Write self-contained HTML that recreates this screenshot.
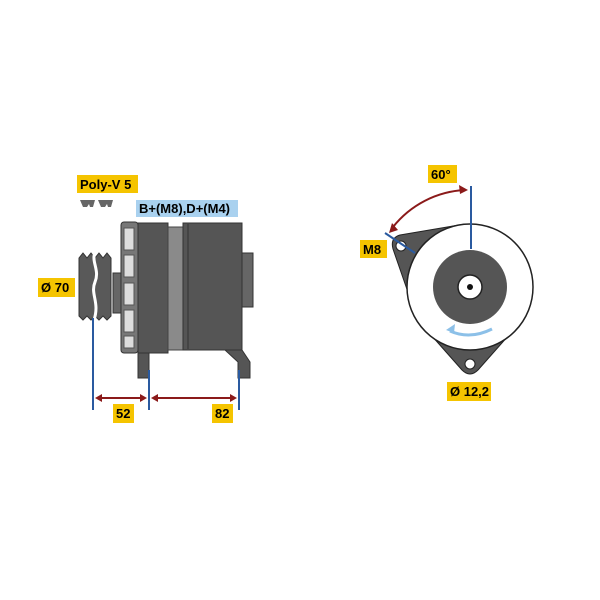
<!DOCTYPE html>
<html><head><style>body{margin:0;background:#fff}svg{display:block}text{font-family:"Liberation Sans",sans-serif;font-weight:bold;font-size:13px}</style></head>
<body><svg width="600" height="600" viewBox="0 0 600 600">
<rect x="77" y="175" width="61" height="18" fill="#f5c400"/><text x="80" y="189">Poly-V 5</text>
<g fill="#666"><path d="M80 200h15l-2 7h-3l-1-3-2 3h-4z"/><path d="M98 200h15l-2 7h-3l-1-3-2 3h-4z"/></g>
<rect x="136" y="200" width="102" height="17" fill="#a9d1ef"/><text x="139" y="213">B+(M8),D+(M4)</text>
<rect x="38" y="278" width="37" height="19" fill="#f5c400"/><text x="41" y="292">Ø 70</text>
<path d="M79 258l4-5 4 5 4-5 4 5 4-5 4 5 4-5 4 5v58l-4 4-4-4-4 4-4-4-4 4-4-4-4 4-4-4z" fill="#595959" stroke="#333"/>
<path d="M95 252c-4 10 5 18 0 30s5 20 -1 38" stroke="#fff" stroke-width="3" fill="none"/>
<rect x="113" y="273" width="9" height="40" fill="#666" stroke="#333"/>
<rect x="121" y="222" width="17" height="131" rx="3" fill="#777" stroke="#333"/>
<g fill="#ddd" stroke="#555"><rect x="124" y="228" width="10" height="22"/><rect x="124" y="255" width="10" height="22"/><rect x="124" y="283" width="10" height="22"/><rect x="124" y="310" width="10" height="22"/><rect x="124" y="336" width="10" height="12"/></g>
<rect x="138" y="223" width="30" height="130" fill="#555" stroke="#333"/>
<rect x="138" y="353" width="11" height="25" fill="#555" stroke="#333"/>
<rect x="168" y="227" width="15" height="123" fill="#8a8a8a" stroke="#444"/>
<rect x="183" y="223" width="59" height="127" fill="#555" stroke="#333"/>
<line x1="188" y1="224" x2="188" y2="349" stroke="#333"/>
<path d="M225 350h17l8 12v16h-12v-16z" fill="#555" stroke="#333"/>
<rect x="242" y="253" width="11" height="54" fill="#666" stroke="#333"/>
<g stroke="#2a5aa0" stroke-width="2"><line x1="93" y1="318" x2="93" y2="410"/><line x1="149" y1="370" x2="149" y2="410"/><line x1="239" y1="370" x2="239" y2="410"/></g>
<g stroke="#8b1a1a" stroke-width="2" fill="#8b1a1a"><line x1="97" y1="398" x2="145" y2="398"/><line x1="153" y1="398" x2="235" y2="398"/>
<path d="M95 398l7-4v8zM147 398l-7-4v8zM151 398l7-4v8zM237 398l-7-4v8z" stroke="none"/></g>
<rect x="113" y="404" width="21" height="19" fill="#f5c400"/><text x="116" y="418">52</text>
<rect x="212" y="404" width="21" height="19" fill="#f5c400"/><text x="215" y="418">82</text>
<!-- right view -->
<path d="M465 224 L400 235 Q390 238 393 249 L419 324 Z" fill="#555" stroke="#222" stroke-linejoin="round"/>
<path d="M416 318 L462 370 Q470 378 478 370 L524 318 Z" fill="#555" stroke="#222" stroke-linejoin="round"/>
<circle cx="470" cy="287" r="63" fill="#fff" stroke="#222" stroke-width="1.5"/>
<circle cx="470" cy="287" r="37" fill="#555"/>
<circle cx="470" cy="287" r="12" fill="#fff" stroke="#222" stroke-width="1.5"/>
<circle cx="470" cy="287" r="3" fill="#111"/>
<circle cx="401" cy="246" r="5" fill="#fff" stroke="#222"/>
<circle cx="470" cy="364" r="5" fill="#fff" stroke="#222"/>
<path d="M492 329 Q470 340 450 331" stroke="#8cc0e8" stroke-width="3" fill="none"/><path d="M446 330l9-6 -1 9z" fill="#8cc0e8"/>
<line x1="471" y1="186" x2="471" y2="249" stroke="#2a5aa0" stroke-width="2"/>
<line x1="385" y1="233" x2="415" y2="253" stroke="#2a5aa0" stroke-width="2"/>
<path d="M465 190 A98 98 0 0 0 393 227" stroke="#8b1a1a" stroke-width="2" fill="none"/>
<path d="M468 190l-9-5 1 9zM389 233l3-10 6 7z" fill="#8b1a1a"/>
<rect x="428" y="165" width="29" height="18" fill="#f5c400"/><text x="431" y="179">60°</text>
<rect x="360" y="240" width="27" height="18" fill="#f5c400"/><text x="363" y="254">M8</text>
<rect x="447" y="382" width="44" height="19" fill="#f5c400"/><text x="450" y="396">Ø 12,2</text>
</svg></body></html>
